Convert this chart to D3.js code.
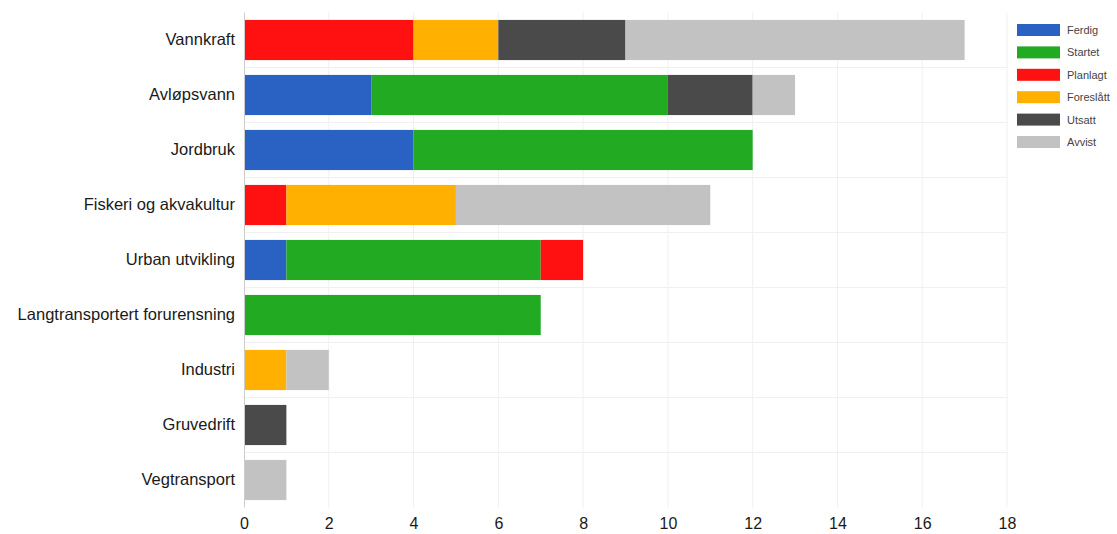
<!DOCTYPE html>
<html>
<head>
<meta charset="utf-8">
<script src="https://cdn.jsdelivr.net/npm/d3@7"></script>
<style>
  body { margin: 0; background: #fff; }
  svg { font-family: "Liberation Sans", Arial, sans-serif; }
</style>
</head>
<body>
<svg width="1117" height="534"></svg>
<script>
var categories = ["Vannkraft", "Avløpsvann", "Jordbruk", "Fiskeri og akvakultur", "Urban utvikling",
    "Langtransportert forurensning", "Industri", "Gruvedrift", "Vegtransport"];
var seriesNames = ["Ferdig", "Startet", "Planlagt", "Foreslått", "Utsatt", "Avvist"];
var colors = ["#2a62c4", "#22aa22", "#ff1111", "#ffb000", "#4a4a4a", "#c2c2c2"];

var ferdig    = [0, 3, 4, 0, 1, 0, 0, 0, 0];
var startet   = [0, 7, 8, 0, 6, 7, 0, 0, 0];
var planlagt  = [4, 0, 0, 1, 1, 0, 0, 0, 0];
var foreslatt = [2, 0, 0, 4, 0, 0, 1, 0, 0];
var utsatt    = [3, 2, 0, 0, 0, 0, 0, 1, 0];
var avvist    = [8, 1, 0, 6, 0, 0, 1, 0, 1];
var xTicks = [0, 2, 4, 6, 8, 10, 12, 14, 16, 18];

var seriesValues = [ferdig, startet, planlagt, foreslatt, utsatt, avvist];

var rows = categories.map(function(c, i) {
    var r = {cat: c};
    seriesNames.forEach(function(s, j) { r[s] = seriesValues[j][i]; });
    return r;
});

var svg = d3.select("svg");
var plotLeft = 244, plotRight = 1007, plotTop = 12.5, plotBottom = 507.5;

var x = d3.scaleLinear().domain([0, 18]).range([plotLeft, plotRight]);
var y = d3.scaleBand().domain(categories).range([plotTop, plotBottom]).paddingInner(0.27).paddingOuter(0.135);

// grid
var grid = svg.append("g");
grid.selectAll("line.v").data(xTicks.slice(1)).enter().append("line")
    .attr("x1", function(d) { return x(d); }).attr("x2", function(d) { return x(d); })
    .attr("y1", plotTop).attr("y2", plotBottom)
    .attr("stroke", "#f0f0f0").attr("stroke-width", 1);
var bounds = d3.range(1, categories.length).map(function(i) { return plotTop + i * y.step(); });
grid.selectAll("line.h").data(bounds).enter().append("line")
    .attr("x1", plotLeft).attr("x2", plotRight)
    .attr("y1", function(d) { return d; }).attr("y2", function(d) { return d; })
    .attr("stroke", "#f0f0f0").attr("stroke-width", 1);

var stacked = d3.stack().keys(seriesNames)(rows);

svg.append("g").selectAll("g").data(stacked).enter().append("g")
    .attr("fill", function(d, i) { return colors[i]; })
    .selectAll("rect").data(function(d) { return d; }).enter().append("rect")
    .attr("x", function(d) { return x(d[0]); })
    .attr("width", function(d) { return x(d[1]) - x(d[0]); })
    .attr("y", function(d) { return y(d.data.cat); })
    .attr("height", y.bandwidth());

// y axis
var yAxis = svg.append("g").attr("transform", "translate(" + plotLeft + ",0)")
    .call(d3.axisLeft(y).tickSize(0).tickPadding(9));
yAxis.select(".domain").attr("stroke", "#ccc").attr("d", "M0.5," + plotTop + "V" + plotBottom);
yAxis.selectAll("text").attr("font-size", 16.5).attr("fill", "#1a1a1a");

// x axis
var xAxis = svg.append("g").attr("transform", "translate(0," + plotBottom + ")")
    .call(d3.axisBottom(x).tickValues(xTicks).tickSize(0).tickPadding(10));
xAxis.select(".domain").remove();
xAxis.selectAll("text").attr("font-size", 16).attr("fill", "#1a1a1a");

// legend
var legend = svg.append("g").attr("transform", "translate(1017,24)");
var item = legend.selectAll("g").data(seriesNames).enter().append("g")
    .attr("transform", function(d, i) { return "translate(0," + (i * 22.4) + ")"; });
item.append("rect").attr("width", 43).attr("height", 12)
    .attr("fill", function(d, i) { return colors[i]; });
item.append("text").attr("x", 50).attr("y", 10).attr("font-size", 11).attr("fill", "#444")
    .text(function(d) { return d; });
</script>
</body>
</html>
